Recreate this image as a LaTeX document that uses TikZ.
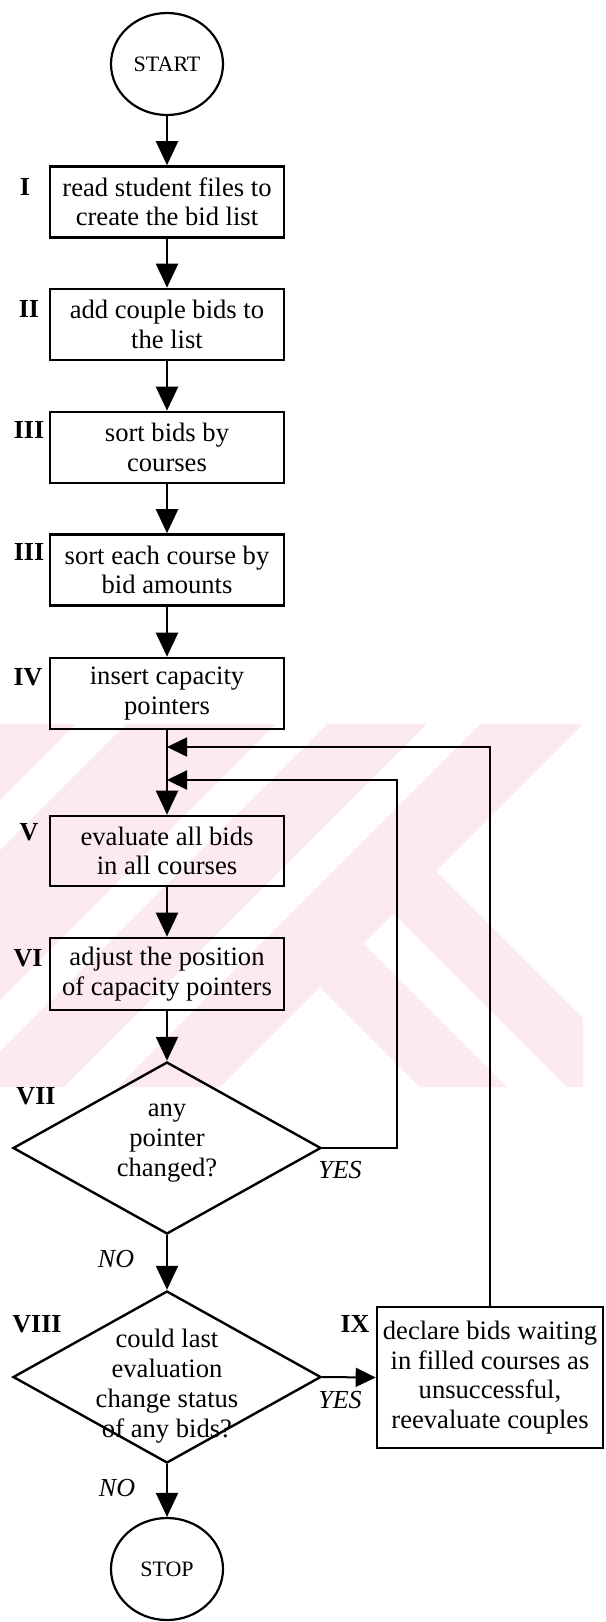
\documentclass[tikz,border=0pt]{standalone}
\usepackage{fontspec}
\setmainfont{Liberation Serif}
\usetikzlibrary{shapes.geometric,arrows.meta}
\definecolor{wm}{RGB}{252,234,238}
\begin{document}
\begin{tikzpicture}[x=1pt,y=-1pt,
  box/.style={draw, line width=2.6pt, minimum width=234pt, minimum height=71pt, inner sep=0pt, align=center, font=\fontsize{26.6pt}{29.5pt}\selectfont},
  dia/.style={diamond, draw, line width=2.4pt, minimum width=308pt, minimum height=172pt, inner sep=0pt},
  txt/.style={align=center, inner sep=0pt, font=\fontsize{26.6pt}{30pt}\selectfont},
  term/.style={ellipse, draw, line width=2.2pt, minimum width=112pt, minimum height=102pt, inner sep=0pt, font=\fontsize{22pt}{24pt}\selectfont},
  lab/.style={inner sep=0pt, font=\bfseries\fontsize{26pt}{28pt}\selectfont},
  ans/.style={inner sep=0pt, font=\itshape\fontsize{26pt}{28pt}\selectfont},
  arr/.style={line width=2.2pt, -{Triangle[length=24pt,width=22pt]}},
  larr/.style={line width=2pt, -{Triangle[length=20pt,width=19pt]}},
  oarr/.style={line width=1.7pt, -{Triangle[length=20pt,width=19pt]}}
]
\useasboundingbox (0,0) rectangle (605,1622);
% watermark
\begin{scope}
\clip (0,724) rectangle (583,1087);
\fill[wm] (0,724) rectangle (583,1087);
\foreach \a/\b in {800/850,1000/1051,1151/1204}
  \fill[white] (\a-724,724) -- (\b-724,724) -- (\b-1087,1087) -- (\a-1087,1087) -- cycle;
\fill[white] (583,724) -- (700,724) -- (700,1087) -- (220,1087) -- cycle;
\fill[wm] (436,871) -- (652,1087) -- (567,1087) -- (393.5,913.5) -- cycle;
\fill[wm] (363.5,943.5) -- (507,1087) -- (420,1087) -- (320,987) -- cycle;
\end{scope}

% nodes
\node[term] (start) at (167,64) {START};
\node[box] (b1) at (167,202) {read student files to\\create the bid list};
\node[box] (b2) at (167,324.5) {add couple bids to\\the list};
\node[box] (b3) at (167,447.5) {sort bids by\\courses};
\node[box] (b4) at (167,570) {sort each course by\\bid amounts};
\node[box] (b5) at (167,693.5) {insert capacity\\pointers};
\node[box, minimum height=70pt] (b6) at (167,851) {evaluate all bids\\in all courses};
\node[box, minimum height=72pt] (b7) at (167,974) {adjust the position\\of capacity pointers};
\node[dia] (d1) at (167,1148) {};
\node[txt] (t1) at (167,1143) {any\\pointer\\changed?};
\node[dia] (d2) at (167,1377) {};
\node[txt] (t2) at (167,1386) {could last\\evaluation\\change status\\of any bids?};
\node[box, minimum width=226pt, minimum height=141pt] (b9) at (490,1377.5) {declare bids waiting\\in filled courses as\\unsuccessful,\\reevaluate couples};
\node[term] (stop) at (167,1569) {STOP};

% step labels
\node[lab] (l1) at (25,187) {I};
\node[lab] (l2) at (29,309) {II};
\node[lab] (l3) at (29,430) {III};
\node[lab] (l4) at (29,552) {III};
\node[lab] (l5) at (28,677) {IV};
\node[lab] (l6) at (29,832) {V};
\node[lab] (l7) at (28,958) {VI};
\node[lab] (l8) at (36,1096) {VII};
\node[lab] (l9) at (37,1324) {VIII};
\node[lab] (l10) at (355,1324) {IX};
\node[ans] (y1) at (340,1170) {YES};
\node[ans] (y2) at (340,1400) {YES};
\node[ans] (n1) at (116,1259) {NO};
\node[ans] (n2) at (117,1488) {NO};

% connectors
\coordinate (j1) at (167,747);
\coordinate (j2) at (167,780);
\coordinate (k1) at (397,1148);
\draw[arr] (start.south) -- (b1.north);
\draw[arr] (b1.south) -- (b2.north);
\draw[arr] (b2.south) -- (b3.north);
\draw[arr] (b3.south) -- (b4.north);
\draw[arr] (b4.south) -- (b5.north);
\draw[arr] (b5.south) -- (b6.north);
\draw[arr] (b6.south) -- (b7.north);
\draw[arr] (b7.south) -- (d1.north);
\draw[arr] (d1.south) -- (d2.north);
\draw[larr] (d2.east) -- (b9.west);
\draw[arr] (d2.south) -- (stop.north);
\draw[larr] (d1.east) -- (k1) |- (j2);
\draw[oarr] (b9.north) |- (j1);
\end{tikzpicture}
\end{document}
